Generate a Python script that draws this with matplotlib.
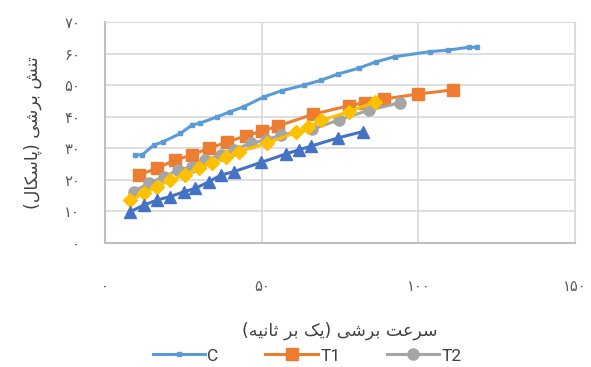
import matplotlib.pyplot as plt

# shear rate / shear stress readings
c_x = [9.6, 11.8, 15.5, 18.6, 24, 27.8, 30.4, 35.8, 40, 44.3, 50.7, 56.6, 63.5, 69, 74.3, 81, 86.5, 92.4, 103.6, 109.5, 116, 118.6]
c_y = [27.9, 27.9, 31, 32.1, 34.7, 37.4, 38, 40, 41.6, 43.2, 46.3, 48.3, 50, 51.6, 53.5, 55.4, 57.4, 59, 60.6, 61.1, 62, 62]

t1_x = [10.7, 16.6, 22.4, 27.8, 33.1, 39, 44.8, 50.2, 55.3, 66.5, 77.8, 83, 89, 100, 111]
t1_y = [21.5, 23.7, 26.3, 27.9, 30, 32, 33.9, 35.5, 37.1, 40.8, 43.5, 44.5, 45.6, 47.2, 48.5]

t2_x = [9.1, 13.9, 18.7, 23.4, 27.8, 32, 36.9, 41.1, 46.5, 51.3, 56, 66, 74.7, 84.3, 94]
t2_y = [16.3, 18.9, 21, 23.1, 24.2, 26.3, 27.9, 29.5, 31.6, 32.6, 34.2, 36, 39, 42.1, 44.4]

t3_x = [8, 12.3, 16.6, 20.8, 25.6, 29.9, 34.2, 38.5, 42.7, 51.5, 60.9, 64.6, 69, 77.8, 86]
t3_y = [13.6, 15.7, 17.8, 20, 21.5, 23.7, 25.2, 27.3, 28.9, 31.6, 35, 36.6, 38.8, 41.6, 44.6]

t4_x = [8, 12.3, 16.6, 20.8, 25.1, 28.8, 33.1, 36.9, 41.1, 49.7, 57.7, 61.8, 65.8, 74.4, 82.3]
t4_y = [9.9, 12, 13.6, 14.7, 16.2, 17.3, 19.4, 21.5, 22.6, 25.5, 28.2, 29.5, 30.7, 33.3, 35.3]

x_ticks = [0, 50, 100, 150]
y_ticks = [0, 10, 20, 30, 40, 50, 60, 70]

# persian labels, already shaped and in visual order
x_label = ("(\uFEEA\uFBFF\uFEE7\uFE8E\uFE9B \uFEAE\uFE91 \uFB8F\uFBFE) "
           "\uFBFD\uFEB7\uFEAE\uFE91 \uFE96\uFECB\uFEAE\uFEB3")
y_label = ("(\uFEDD\uFE8E\uFB91\uFEB3\uFE8E\uFB58) "
           "\uFBFD\uFEB7\uFEAE\uFE91 \uFEB6\uFEE8\uFE97")


def fa_digits(n):
    return "".join(chr(0x06F0 + int(d)) for d in str(n))


fig = plt.figure(figsize=(5.91, 3.67), dpi=100)
ax = fig.add_axes([0.178, 0.338, 0.795, 0.602])

ax.plot(c_x, c_y, color="#5B9BD5", lw=2.2, marker="s", ms=3.5, label="C", zorder=3)
ax.plot(t1_x, t1_y, color="#ED7D31", lw=2.2, marker="s", ms=8, label="T1", zorder=3)
ax.plot(t2_x, t2_y, color="#A5A5A5", lw=2.2, marker="o", ms=8, label="T2", zorder=3)
ax.plot(t3_x, t3_y, color="#FFC000", lw=2.2, marker="D", ms=7, zorder=3)
ax.plot(t4_x, t4_y, color="#4472C4", lw=2.2, marker="^", ms=8.5, zorder=3)

ax.set_xlim(0, 150)
ax.set_ylim(0, 70)
ax.set_xticks(x_ticks)
ax.set_yticks(y_ticks)
ax.set_xticklabels([fa_digits(v) for v in x_ticks])
ax.set_yticklabels([fa_digits(v) for v in y_ticks])
ax.tick_params(length=0, colors="#595959", labelsize=10.5)
ax.tick_params(axis="x", pad=26)
ax.tick_params(axis="y", pad=18)

ax.grid(color="#D9D9D9", lw=1.2)
ax.set_axisbelow(True)
for side in ["top", "right"]:
    ax.spines[side].set_color("#D9D9D9")
for side in ["left", "bottom"]:
    ax.spines[side].set_color("#BFBFBF")
    ax.spines[side].set_linewidth(1.5)

ax.set_xlabel(x_label, fontsize=12.5, color="#404040", labelpad=20, family="DejaVu Sans")
ax.set_ylabel(y_label, fontsize=12.5, color="#404040", labelpad=16, family="DejaVu Sans")

leg = fig.legend(loc="center", bbox_to_anchor=(0.52, 0.03), ncol=3, frameon=False,
                 handlelength=3.0, columnspacing=2.7, handletextpad=0.15,
                 prop={"family": "Roboto", "size": 12.5})
for t in leg.get_texts():
    t.set_color("#404040")

fig.savefig("out.png", dpi=100)
